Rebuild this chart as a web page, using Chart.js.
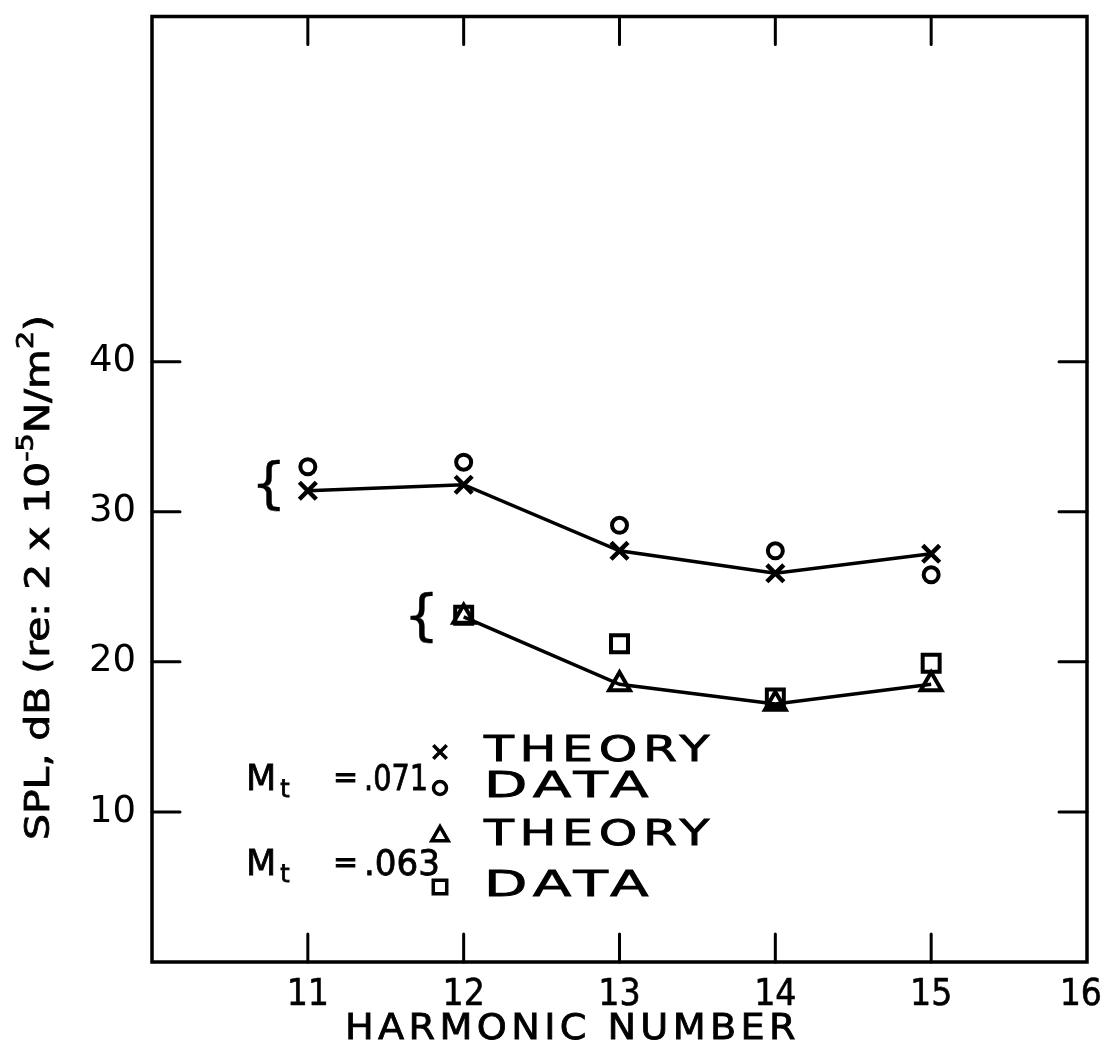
<!DOCTYPE html>
<html>
<head>
<meta charset="utf-8">
<script src="https://cdn.jsdelivr.net/npm/chart.js@4.4.1/dist/chart.umd.min.js"></script>
<style>
  html, body { margin: 0; padding: 0; background: #fff; }
</style>
</head>
<body>
<canvas id="spl-chart" width="1104" height="1049"></canvas>
<script>
// values
const harmonics = [11, 12, 13, 14, 15];
const theory071 = [31.4, 31.8, 27.4, 25.9, 27.2];
const data071 = [33.0, 33.3, 29.1, 27.4, 25.8];
const theory063 = [null, 23.0, 18.5, 17.2, 18.5];
const data063 = [null, 23.1, 21.2, 17.6, 19.9];
const xTickLabels = [11, 12, 13, 14, 15, 16];
const yTickLabels = [10, 20, 30, 40];

const FONT = '"DejaVu Sans", sans-serif';
const INK = '#000';

const toPoints = (vals) => harmonics
    .map((h, i) => ({ x: h, y: vals[i] }))
    .filter(p => p.y !== null);

// draw text, optionally stretched to a given width (the original lettering is wide and heavy)
function drawText(ctx, str, x, y, size, opts = {}) {
    ctx.save();
    ctx.font = size + 'px ' + FONT;
    ctx.fillStyle = INK;
    ctx.strokeStyle = INK;
    ctx.lineWidth = opts.weight === undefined ? 0.8 : opts.weight;
    ctx.textBaseline = 'middle';
    ctx.letterSpacing = (opts.spacing || 0) + 'px';
    const w0 = ctx.measureText(str).width;
    const sx = opts.width ? opts.width / w0 : (opts.stretch || 1);
    ctx.translate(x, y);
    ctx.scale(sx, 1);
    ctx.textAlign = opts.align || 'left';
    ctx.fillText(str, 0, 0);
    if (ctx.lineWidth > 0) ctx.strokeText(str, 0, 0);
    ctx.restore();
    return w0 * sx;
}

const framePlugin = {
    id: 'frame',
    afterDraw(chart) {
        const ctx = chart.ctx;
        const a = chart.chartArea;
        const xs = chart.scales.x;
        const ys = chart.scales.y;
        const tick = 28;

        ctx.save();
        ctx.strokeStyle = INK;
        ctx.lineCap = 'round';

        // box
        ctx.lineWidth = 3.5;
        ctx.strokeRect(a.left, a.top, a.right - a.left, a.bottom - a.top);

        // inward ticks
        ctx.lineWidth = 3;
        ctx.beginPath();
        harmonics.forEach(h => {
            const px = xs.getPixelForValue(h);
            ctx.moveTo(px, a.bottom); ctx.lineTo(px, a.bottom - tick);
            ctx.moveTo(px, a.top); ctx.lineTo(px, a.top + tick);
        });
        yTickLabels.forEach(v => {
            const py = ys.getPixelForValue(v);
            ctx.moveTo(a.left, py); ctx.lineTo(a.left + tick, py);
            ctx.moveTo(a.right, py); ctx.lineTo(a.right - tick, py);
        });
        ctx.stroke();
        ctx.restore();

        // x tick labels (16 sits at the canvas edge, so keep it inside)
        xTickLabels.forEach(v => {
            ctx.font = '37px ' + FONT;
            const w = ctx.measureText(String(v)).width * 0.9;
            let cx = xs.getPixelForValue(v);
            cx = Math.min(cx, chart.width - 2 - w / 2);
            drawText(ctx, String(v), cx - w / 2, a.bottom + 33, 37, { stretch: 0.9, weight: 0.6 });
        });

        // braces grouping the two Mach numbers
        drawText(ctx, '{', xs.getPixelForValue(10.75), ys.getPixelForValue(31.6), 56, { align: 'center', weight: 0.4 });
        drawText(ctx, '{', xs.getPixelForValue(11.73), ys.getPixelForValue(22.8), 56, { align: 'center', weight: 0.4 });

        // x title
        drawText(ctx, 'HARMONIC NUMBER', 345, 1030, 35, { spacing: 4, width: 455 });

        // y title with superscripts, rotated
        ctx.save();
        ctx.translate(40, 578);
        ctx.rotate(-Math.PI / 2);
        const parts = [
            ['SPL, dB (re: 2 x 10', 33, 0],
            ['-5', 23, -13],
            ['N/m', 33, 0],
            ['2', 23, -13],
            [')', 33, 0]
        ];
        let total = 0;
        parts.forEach(p => {
            ctx.font = p[1] + 'px ' + FONT;
            total += ctx.measureText(p[0]).width;
        });
        const stretch = 525 / total;
        let cx = -262;
        parts.forEach(p => {
            cx += drawText(ctx, p[0], cx, p[2], p[1], { stretch: stretch });
        });
        ctx.restore();

        // legend block
        const rows = [
            { m: '.071', mw: 64, my: 781, items: [['crossRot', 'THEORY', 752, 231], ['circle', 'DATA', 788, 171]] },
            { m: '.063', mw: 76, my: 866, items: [['triangle', 'THEORY', 836, 231], ['rect', 'DATA', 887, 171]] }
        ];
        const sizes = { crossRot: 9.5, circle: 6.5, triangle: 9.5, rect: 9.5 };
        rows.forEach(r => {
            const mw = drawText(ctx, 'M', 246, r.my, 35);
            drawText(ctx, 't', 246 + mw + 4, r.my + 10, 24);
            drawText(ctx, '=', 333, r.my - 2, 30);
            drawText(ctx, r.m, 364, r.my, 35, { width: r.mw });
            r.items.forEach(it => {
                ctx.save();
                ctx.strokeStyle = INK;
                ctx.fillStyle = 'rgba(0,0,0,0)';
                ctx.lineWidth = 3.5;
                Chart.helpers.drawPoint(ctx, { pointStyle: it[0], radius: sizes[it[0]], rotation: 0, borderWidth: 3.5 }, 440, it[2]);
                ctx.restore();
                drawText(ctx, it[1], 484, it[2], 35, { spacing: 4, width: it[3] });
            });
        });
    }
};

const common = {
    borderColor: INK,
    pointBorderColor: INK,
    pointBackgroundColor: 'rgba(0,0,0,0)',
    pointBorderWidth: 4,
    borderWidth: 3.5,
    pointHoverRadius: 0
};

new Chart(document.getElementById('spl-chart'), {
    type: 'scatter',
    data: {
        datasets: [
            { ...common, label: 'THEORY .071', data: toPoints(theory071), showLine: true, pointStyle: 'crossRot', pointRadius: 12, pointBorderWidth: 4.5 },
            { ...common, label: 'DATA .071', data: toPoints(data071), showLine: false, pointStyle: 'circle', pointRadius: 7.5 },
            { ...common, label: 'THEORY .063', data: toPoints(theory063), showLine: true, pointStyle: 'triangle', pointRadius: 12 },
            { ...common, label: 'DATA .063', data: toPoints(data063), showLine: false, pointStyle: 'rect', pointRadius: 12 }
        ]
    },
    options: {
        responsive: false,
        animation: false,
        devicePixelRatio: 1,
        layout: { padding: { top: 12, right: 17, left: 0, bottom: 0 } },
        plugins: {
            legend: { display: false },
            tooltip: { enabled: false }
        },
        scales: {
            x: {
                type: 'linear',
                min: 10,
                max: 16,
                grid: { display: false, drawTicks: false },
                border: { display: false },
                ticks: { display: false, stepSize: 1 },
                afterFit: s => {
                    s.height = 87;
                    s.paddingLeft = 0;
                    s.paddingRight = 0;
                }
            },
            y: {
                min: 0,
                max: 63,
                grid: { display: false, drawTicks: false },
                border: { display: false },
                ticks: {
                    stepSize: 10,
                    padding: 16,
                    color: INK,
                    font: { family: FONT, size: 37 },
                    callback: v => yTickLabels.includes(v) ? String(v) : ''
                },
                afterFit: s => {
                    s.width = 152;
                    s.paddingTop = 0;
                    s.paddingBottom = 0;
                }
            }
        }
    },
    plugins: [framePlugin]
});
</script>
</body>
</html>
